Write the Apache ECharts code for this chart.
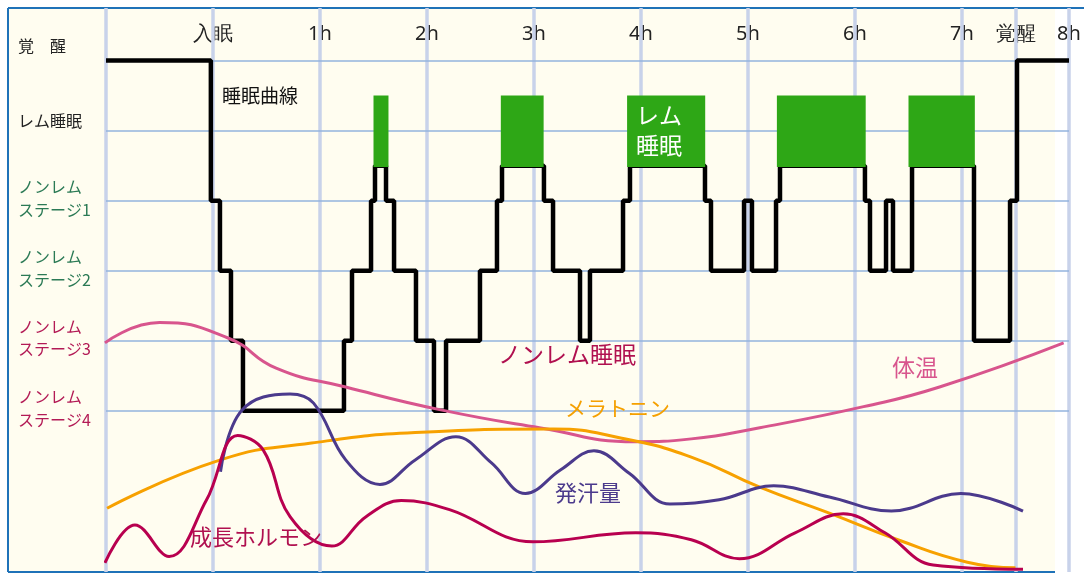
<!DOCTYPE html>
<html><head><meta charset="utf-8">
<script src="https://cdn.jsdelivr.net/npm/echarts@6/dist/echarts.min.js"></script>
<style>html,body{margin:0;padding:0;background:#fff}#c{width:1084px;height:574px}</style>
</head><body><div id="c"></div>
<script>
// 睡眠段階: 5=覚醒, 3.5=レム(ブロック下端), 3..0=ノンレム1..4
const hypnoX = [-1,-0.02,0.065,0.168,0.28,1.224,1.299,1.477,1.514,1.617,1.692,1.897,2.065,2.178,2.495,2.654,2.701,3.093,3.178,3.43,3.523,3.832,3.897,4.598,4.654,4.963,5.037,5.262,5.299,6.093,6.14,6.29,6.355,6.533,7.112,7.449,7.514,8];
const hypnoY = [5,3,2,1,0,1,2,3,3.5,3,2,1,0,1,2,3,3.5,3,2,1,2,3,3.5,3,2,3,2,3,3.5,3,2,3,2,3.5,1,3,5,5];
const remBlocks = [[1.50,1.64],[2.69,3.09],[3.87,4.60],[5.27,6.10],[6.50,7.12]];
const temp = [[-1.01,0.97],[-0.5,1.26],[0.14,1.04],[0.59,0.61],[1.24,0.34],[2.14,0.01],[3.05,-0.24],[3.95,-0.44],[4.47,-0.40],[5.11,-0.24],[6.08,0.06],[6.79,0.34],[7.95,0.97]];
const melatonin = [[-0.99,-1.39],[0.07,-0.70],[0.92,-0.46],[1.89,-0.31],[3.18,-0.26],[3.82,-0.39],[4.47,-0.66],[5.11,-1.09],[5.76,-1.46],[6.40,-1.84],[7.05,-2.16],[7.50,-2.24]];
const sweat = [[0.07,-0.87],[0.27,0.01],[0.72,0.24],[0.94,0.11],[1.24,-0.70],[1.56,-1.05],[1.89,-0.70],[2.27,-0.37],[2.60,-0.74],[2.92,-1.18],[3.25,-0.84],[3.56,-0.57],[3.89,-0.89],[4.27,-1.33],[4.73,-1.27],[5.24,-1.07],[5.76,-1.23],[6.34,-1.43],[6.99,-1.18],[7.57,-1.43]];
const growth = [[-1.01,-2.17],[-0.73,-1.63],[-0.41,-2.08],[-0.06,-1.27],[0.23,-0.35],[0.47,-0.56],[0.72,-1.51],[1.11,-1.93],[1.43,-1.51],[1.76,-1.28],[2.21,-1.41],[2.99,-1.87],[3.95,-1.74],[4.47,-1.84],[4.92,-2.11],[5.44,-1.74],[5.89,-1.47],[6.28,-1.74],[6.73,-2.2],[7.57,-2.26]];
const vLines = [-1,0,1,2,3,4,5,6,7,7.5,8];
const hLines = [0,1,2,3,4,5];
const tickLabels = {'0':'入眠','1':'1h','2':'2h','3':'3h','4':'4h','5':'5h','6':'6h','7':'7h','7.5':'覚醒','8':'8h'};

const chart = echarts.init(document.getElementById('c'));
const txt = (x, y, t, color, size) => ({type:'text', left:x, top:y, z:100,
  style:{text:t, fill:color, font:(size||16)+'px "Noto Sans CJK JP"'}});

chart.setOption({
  animation:false,
  grid:{left:106, right:15, top:8, bottom:2},
  graphic:[
    {type:'rect', shape:{x:8, y:8, width:1047, height:564}, style:{fill:'#fffdf0'}, z:-10},
    {type:'line', shape:{x1:8,y1:8,x2:1084,y2:8}, style:{stroke:'#1f72b8', lineWidth:2}, z:-9},
    {type:'line', shape:{x1:8,y1:8,x2:8,y2:572}, style:{stroke:'#1f72b8', lineWidth:2}, z:-9},
    {type:'line', shape:{x1:8,y1:572,x2:1055,y2:572}, style:{stroke:'#1f72b8', lineWidth:2}, z:-9},
    txt(18,38,'覚　醒','#222'), txt(18,113,'レム睡眠','#222'),
    txt(18,179,'ノンレム','#2b7a55'), txt(18,202,'ステージ1','#2b7a55'),
    txt(18,249,'ノンレム','#2b7a55'), txt(18,272,'ステージ2','#2b7a55'),
    txt(18,319,'ノンレム','#b31a55'), txt(18,341,'ステージ3','#b31a55'),
    txt(18,389,'ノンレム','#b31a55'), txt(18,412,'ステージ4','#b31a55'),
    txt(222,86,'睡眠曲線','#111',19),
    {type:'text', left:636, top:100, z:100, style:{text:'レム\n睡眠', fill:'#fff', lineHeight:30, font:'23px "Noto Sans CJK JP"'}},
    txt(498,343,'ノンレム睡眠','#b0104f',23),
    txt(892,356,'体温','#d8558d',23),
    txt(565,398,'メラトニン','#f5a000',21),
    txt(555,482,'発汗量','#4b3a8c',22),
    txt(190,526,'成長ホルモン','#b0104f',22)
  ],
  xAxis:{type:'value', min:-1, max:8, interval:0.5, position:'top',
    axisLine:{show:false}, axisTick:{show:false}, splitLine:{show:false},
    axisLabel:{inside:true, margin:16, color:'#222', fontSize:20, fontFamily:'Noto Sans',
      showMinLabel:true, showMaxLabel:true,
      formatter:v => tickLabels[String(v)] || ''}},
  yAxis:{type:'value', min:-2.3, max:5.75, show:false, splitLine:{show:false}},
  series:[
    {type:'line', data:[], silent:true,
      markLine:{symbol:'none', silent:true, label:{show:false},
        data:[
          ...vLines.map(v => ({xAxis:v, lineStyle:{color:'#c8d2ea', width:3.5, type:'solid'}})),
          ...hLines.map(v => ({yAxis:v, lineStyle:{color:'#93b3de', width:1.5, type:'solid'}}))
        ]}},
    {name:'睡眠曲線', type:'line', step:'end', symbol:'none', z:5,
      data:hypnoX.map((x,i) => [x, hypnoY[i]]),
      lineStyle:{color:'#000', width:4.5}},
    {name:'レム', type:'custom', z:6, silent:true,
      data:remBlocks,
      renderItem:(params, api) => {
        const p0 = api.coord([api.value(0), 4.5]);
        const p1 = api.coord([api.value(1), 3.48]);
        return {type:'rect', shape:{x:p0[0], y:p0[1], width:p1[0]-p0[0], height:p1[1]-p0[1]},
          style:{fill:'#2ea716'}};
      }},
    {name:'体温', type:'line', smooth:0.5, symbol:'none', z:7, data:temp, lineStyle:{color:'#d8558d', width:3}},
    {name:'メラトニン', type:'line', smooth:0.5, symbol:'none', z:7, data:melatonin, lineStyle:{color:'#f7a100', width:3}},
    {name:'発汗量', type:'line', smooth:0.4, symbol:'none', z:7, data:sweat, lineStyle:{color:'#4b3a8c', width:3}},
    {name:'成長ホルモン', type:'line', smooth:0.4, symbol:'none', z:7, data:growth, lineStyle:{color:'#b8004f', width:3}}
  ]
});
</script></body></html>
